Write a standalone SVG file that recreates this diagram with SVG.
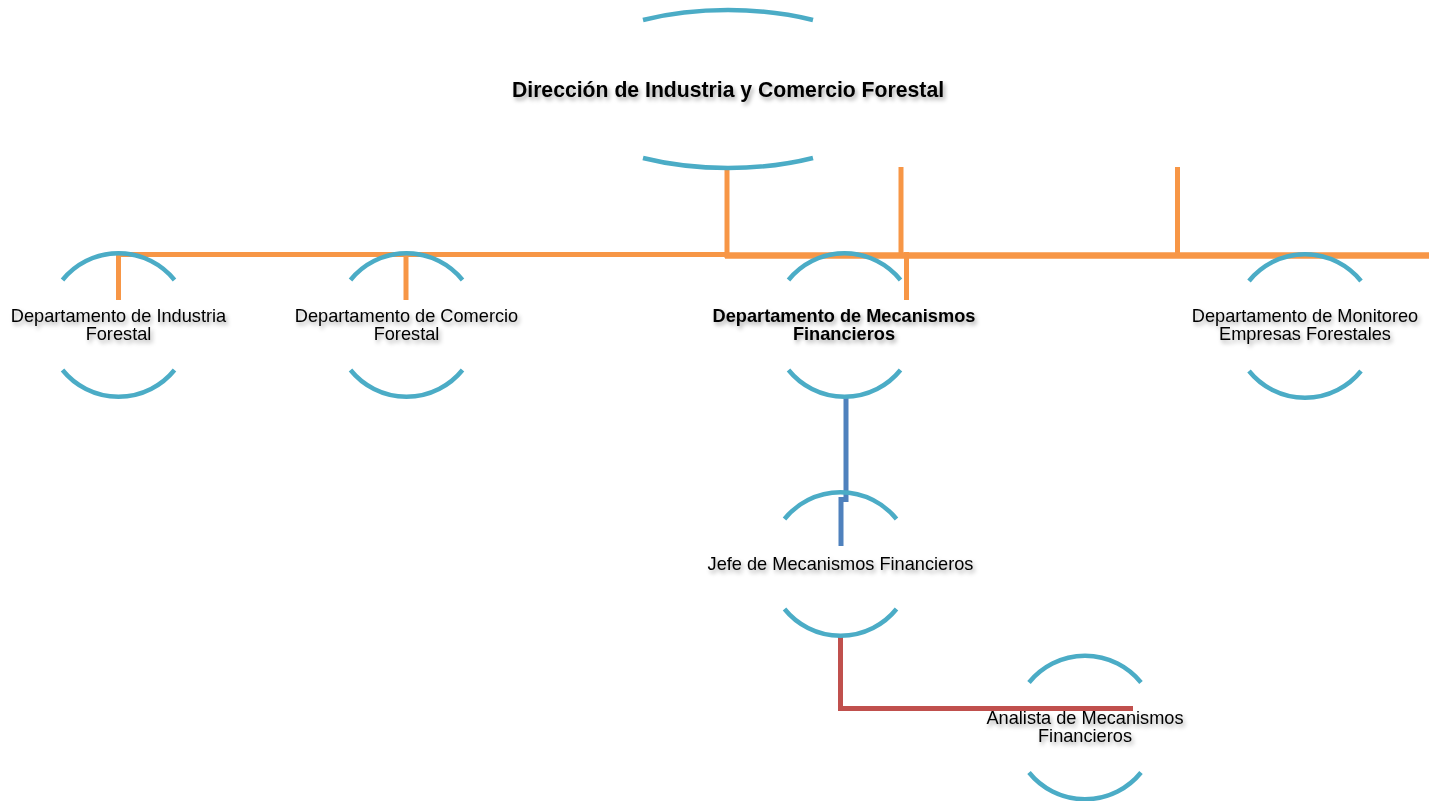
<svg xmlns="http://www.w3.org/2000/svg" width="1429" height="801" viewBox="0 0 1429 801">
<defs>
<filter id="ts" x="-10%" y="-30%" width="120%" height="180%">
<feDropShadow dx="2" dy="3" stdDeviation="2" flood-color="#000" flood-opacity="0.35"/>
</filter>
</defs>
<style>
.arc{fill:none;stroke:#4bacc6;stroke-width:4.5}
.or{fill:none;stroke:#f79646;stroke-width:5}
.bl{fill:none;stroke:#4f81bd;stroke-width:5}
.rd{fill:none;stroke:#c0504d;stroke-width:5}
.t{font-family:"Liberation Sans",Arial,sans-serif;font-size:18.2px;fill:#000;text-anchor:middle;filter:url(#ts)}
.b{font-weight:bold}
</style>
<g id="connectors">
<path class="or" d="M116,254.5 H727"/>
<path class="or" d="M118.5,252 V300"/>
<path class="or" d="M406,252 V300"/>
<path class="or" d="M727,168 V258"/>
<path class="or" d="M725,255.5 H1429" style="stroke-width:6.5"/>
<path class="or" d="M901,167 V254"/>
<path class="or" d="M906.5,252 V300"/>
<path class="or" d="M1177.5,167 V257"/>
<path class="bl" d="M846,397 V499.5 H841 V546"/>
<path class="rd" d="M840.5,636 V708.5 H1133"/>
</g>
<g id="n0">
<path class="arc" d="M643,20 A175,79 0 0 1 813,20"/>
<path class="arc" d="M643,158 A175,79 0 0 0 813,158"/>
<text class="t b" x="728" y="97" style="font-size:21.2px">Dirección de Industria y Comercio Forestal</text>
</g>
<g id="n1">
<path class="arc" d="M62.5,280 A72,72 0 0 1 174.5,280"/>
<path class="arc" d="M62.5,370 A72,72 0 0 0 174.5,370"/>
<text class="t" x="118.5" y="321.5">Departamento de Industria</text>
<text class="t" x="118.5" y="340">Forestal</text>
</g>
<g id="n2">
<path class="arc" d="M350.5,280 A72,72 0 0 1 462.5,280"/>
<path class="arc" d="M350.5,370 A72,72 0 0 0 462.5,370"/>
<text class="t" x="406.5" y="321.5">Departamento de Comercio</text>
<text class="t" x="406.5" y="340">Forestal</text>
</g>
<g id="n3">
<path class="arc" d="M788.5,280 A72,72 0 0 1 900.5,280"/>
<path class="arc" d="M788.5,370 A72,72 0 0 0 900.5,370"/>
<text class="t b" x="844" y="321.5">Departamento de Mecanismos</text>
<text class="t b" x="844" y="340">Financieros</text>
</g>
<g id="n4">
<path class="arc" d="M1249,281 A72,72 0 0 1 1361,281"/>
<path class="arc" d="M1249,371 A72,72 0 0 0 1361,371"/>
<text class="t" x="1305" y="321.5">Departamento de Monitoreo</text>
<text class="t" x="1305" y="340">Empresas Forestales</text>
</g>
<g id="n5">
<path class="arc" d="M784.5,519 A72,72 0 0 1 896.5,519"/>
<path class="arc" d="M784.5,609 A72,72 0 0 0 896.5,609"/>
<text class="t" x="840.5" y="570">Jefe de Mecanismos Financieros</text>
</g>
<g id="n6">
<path class="arc" d="M1029,682.5 A72,72 0 0 1 1141,682.5"/>
<path class="arc" d="M1029,772.5 A72,72 0 0 0 1141,772.5"/>
<text class="t" x="1085" y="723.5">Analista de Mecanismos</text>
<text class="t" x="1085" y="742">Financieros</text>
</g>
</svg>
